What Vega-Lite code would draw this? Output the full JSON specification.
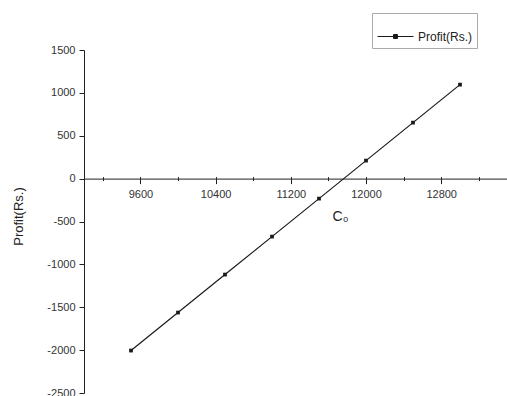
{
  "$schema": "https://vega.github.io/schema/vega-lite/v6.json",
  "autosize": "none",
  "width": 423,
  "height": 343,
  "padding": {"left": 84, "top": 50, "right": 0, "bottom": 3},
  "background": "white",
  "config": {
    "view": {"stroke": null},
    "font": "Liberation Sans",
    "axis": {"labelFont": "Liberation Sans", "titleFont": "Liberation Sans", "domainColor": "#222", "tickColor": "#222", "labelColor": "#333", "titleColor": "#222", "grid": false}
  },
  "data": {
    "values": [
      {"C0": 9500, "profit": -2005, "series": "Profit(Rs.)"},
      {"C0": 10000, "profit": -1562, "series": "Profit(Rs.)"},
      {"C0": 10500, "profit": -1119, "series": "Profit(Rs.)"},
      {"C0": 11000, "profit": -676, "series": "Profit(Rs.)"},
      {"C0": 11500, "profit": -233, "series": "Profit(Rs.)"},
      {"C0": 12000, "profit": 210, "series": "Profit(Rs.)"},
      {"C0": 12500, "profit": 653, "series": "Profit(Rs.)"},
      {"C0": 13000, "profit": 1096, "series": "Profit(Rs.)"}
    ]
  },
  "layer": [
    {
      "mark": {"type": "line", "strokeWidth": 1.2},
      "encoding": {
        "x": {
          "field": "C0", "type": "quantitative",
          "scale": {"domain": [9000, 13500], "nice": false, "zero": false},
          "axis": {
            "orient": "bottom", "offset": -214.4,
            "values": [9200, 9600, 10000, 10400, 10800, 11200, 11600, 12000, 12400, 12800, 13200],
            "labelExpr": "(datum.value - 9600) % 800 === 0 ? datum.label : ''",
            "format": "d",
            "tickSize": {"condition": {"test": "(datum.value - 9600) % 800 === 0", "value": 5}, "value": 2},
            "labelFontSize": 11, "labelPadding": 5, "labelFlush": false,
            "title": "C₀", "titleFontSize": 14, "titleFontWeight": "normal",
            "titleX": 256, "titleY": 38, "titleAlign": "center", "titleBaseline": "middle"
          }
        },
        "y": {
          "field": "profit", "type": "quantitative",
          "scale": {"domain": [-2500, 1500], "nice": false, "zero": false},
          "axis": {
            "orient": "left",
            "values": [-2500, -2250, -2000, -1750, -1500, -1250, -1000, -750, -500, -250, 0, 250, 500, 750, 1000, 1250, 1500],
            "labelExpr": "datum.value % 500 === 0 ? replace(datum.label, '−', '-') : ''",
            "format": "d",
            "tickSize": {"condition": {"test": "datum.value % 500 === 0", "value": 5}, "value": 3},
            "labelFontSize": 11, "labelPadding": 4, "labelFlush": false,
            "title": "Profit(Rs.)", "titleFontSize": 13, "titleFontWeight": "normal",
            "titleX": -66, "titleY": 166, "titleAngle": -90, "titleAlign": "center", "titleBaseline": "middle"
          }
        },
        "color": {
          "field": "series", "type": "nominal",
          "scale": {"domain": ["Profit(Rs.)"], "range": ["#1a1a1a"]},
          "legend": {
            "title": null, "orient": "none", "legendX": 288, "legendY": -37,
            "symbolType": "M-1,0H1M-0.11,-0.11H0.11V0.11H-0.11Z",
            "symbolSize": 1296, "symbolStrokeWidth": 1,
            "labelFontSize": 12, "labelFont": "Liberation Sans", "labelColor": "#222", "labelOffset": 4,
            "padding": 5, "strokeColor": "#aaa", "cornerRadius": 0,
            "encode": {"symbols": {"update": {"fill": {"value": "#1a1a1a"}, "stroke": {"value": "#1a1a1a"}}}}
          }
        }
      }
    },
    {
      "mark": {"type": "square", "size": 14, "filled": true, "opacity": 1},
      "encoding": {
        "x": {
          "field": "C0", "type": "quantitative",
          "axis": {
            "orient": "top", "offset": -128.6,
            "values": [9200, 9600, 10000, 10400, 10800, 11200, 11600, 12000, 12400, 12800, 13200],
            "labels": false, "domain": false, "tickSize": 2, "title": null
          }
        },
        "y": {"field": "profit", "type": "quantitative"},
        "color": {"field": "series", "type": "nominal", "legend": null}
      }
    }
  ],
  "resolve": {"axis": {"x": "independent"}}
}
